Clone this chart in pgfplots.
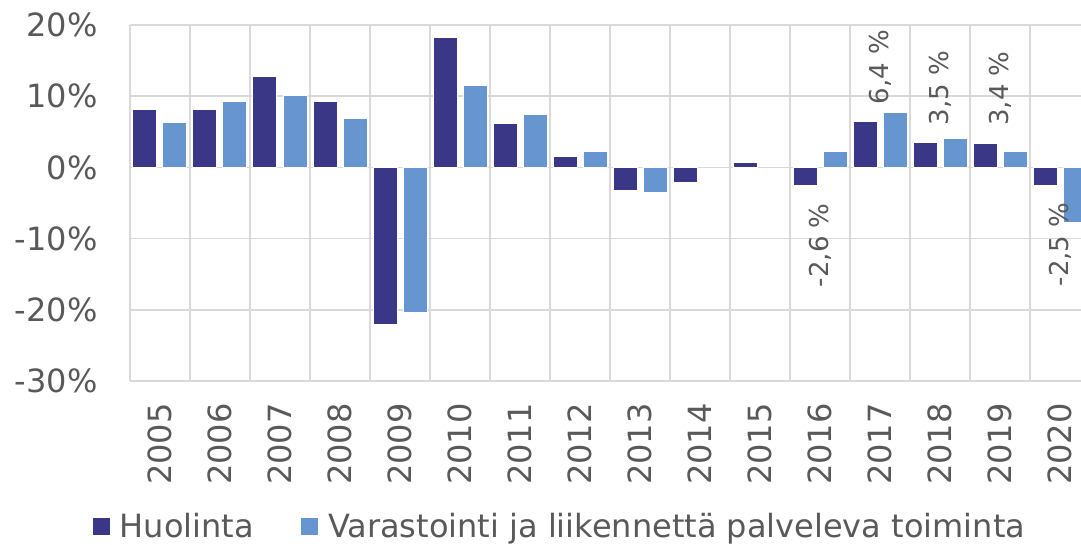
\documentclass[border=0pt]{standalone}
\usepackage{fontspec}
\setmainfont{DejaVu Sans}
\usepackage{pgfplots}
\pgfplotsset{compat=1.18}
\definecolor{darkbar}{HTML}{3A3787}
\definecolor{lightbar}{HTML}{6795CF}
\definecolor{gridc}{HTML}{D9D9D9}
\definecolor{txt}{HTML}{595959}
\begin{document}
\begin{tikzpicture}
\begin{axis}[
  scale only axis,
  width=475.5pt, height=178pt,
  xmin=-0.5, xmax=15.35,
  ymin=-30, ymax=20,
  ytick={-30,-20,-10,0,10,20},
  yticklabels={-30\%,-20\%,-10\%,0\%,10\%,20\%},
  xtick={0,...,15},
  xticklabels={2005,2006,2007,2008,2009,2010,2011,2012,2013,2014,2015,2016,2017,2018,2019,2020},
  minor xtick={-0.5,0.5,...,15.5},
  ymajorgrids, xminorgrids,
  major grid style={gridc, line width=0.75pt},
  minor grid style={gridc, line width=0.75pt},
  axis line style={draw=none},
  major tick length=0pt, minor tick length=0pt,
  tick label style={text=txt, font=\fontsize{16}{19}\selectfont},
  yticklabel style={anchor=east, inner sep=0pt, xshift=-16pt},
  xticklabel style={rotate=90, anchor=east, inner xsep=11pt},
  legend style={draw=none, fill=none, at={(axis description cs:0.4527,-0.41)}, anchor=center,
    legend columns=2, font=\fontsize{16}{19}\selectfont, text=txt,
    /tikz/every even column/.append style={column sep=21pt}},
  legend image code/.code={\fill[#1] (0pt,-4.5pt) rectangle (9pt,4.5pt); \path (11.5pt,0pt);},
  clip=true,
]
\addplot[ybar, bar width=0.4, bar shift=-0.25, fill=darkbar, draw=white, line width=0.5pt] coordinates {
(0,8.2) (1,8.1) (2,12.8) (3,9.2) (4,-22.0) (5,18.2) (6,6.1) (7,1.5)
(8,-3.3) (9,-2.1) (10,0.7) (11,-2.6) (12,6.4) (13,3.5) (14,3.4) (15,-2.5)
};
\addlegendentry{Huolinta}
\addplot[ybar, bar width=0.4, bar shift=0.25, fill=lightbar, draw=white, line width=0.5pt] coordinates {
(0,6.3) (1,9.2) (2,10.1) (3,6.9) (4,-20.4) (5,11.5) (6,7.4) (7,2.2)
(8,-3.5) (11,2.2) (12,7.7) (13,4.1) (14,2.3) (15,-7.7)
};
\addlegendentry{Varastointi ja liikennettä palveleva toiminta}
\addplot[ybar, bar width=0.4, bar shift=-0.25, draw=none, fill=none, forget plot,
  nodes near coords, point meta=explicit symbolic,
  nodes near coords align={anchor=west},
  every node near coord/.append style={rotate=90, anchor=west, inner xsep=8.5pt, inner ysep=0pt, text=txt, font=\fontsize{13}{15}\selectfont}]
  coordinates {(12,6.4) [6,4 \%] (13,3.5) [3,5 \%] (14,3.4) [3,4 \%]};
\addplot[ybar, bar width=0.4, bar shift=-0.25, draw=none, fill=none, forget plot,
  nodes near coords, point meta=explicit symbolic,
  nodes near coords align={anchor=east},
  every node near coord/.append style={rotate=90, anchor=east, inner xsep=8.5pt, inner ysep=0pt, text=txt, font=\fontsize{13}{15}\selectfont}]
  coordinates {(11,-2.6) [-2,6 \%] (15,-2.5) [-2,5 \%]};
\end{axis}
\pgfresetboundingbox
\useasboundingbox (-65pt,-82pt) rectangle (475.5pt,190.5pt);
\end{tikzpicture}
\end{document}
